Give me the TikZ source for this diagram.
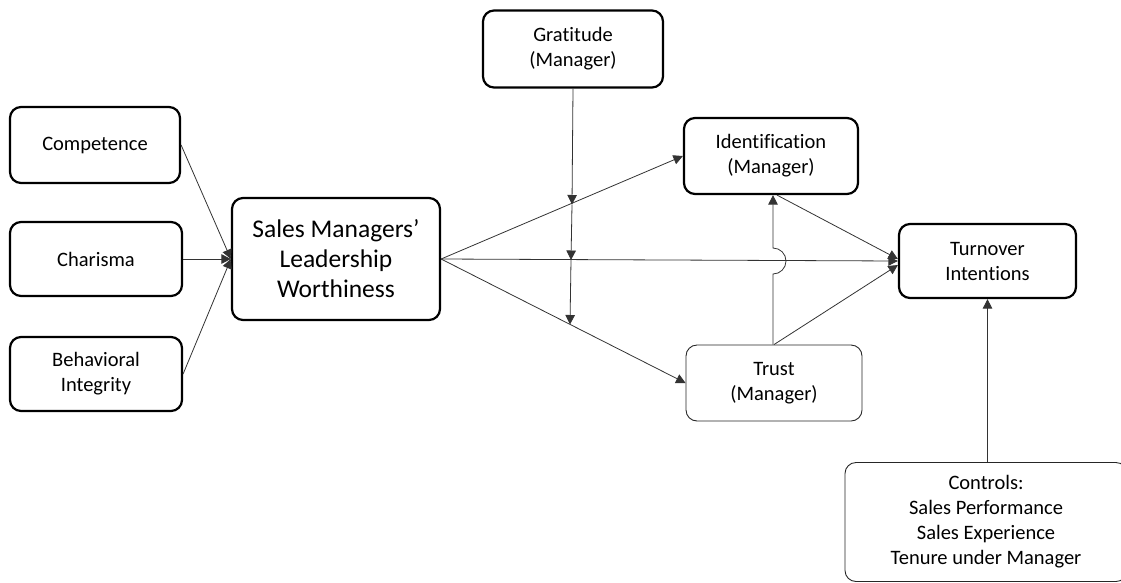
\documentclass[tikz,border=0pt]{standalone}
\usepackage{fontspec}
\setmainfont{Carlito}[Ligatures=NoCommon]
\usetikzlibrary{arrows.meta,calc}
\begin{document}
\begin{tikzpicture}[x=1pt,y=-1pt,
  box/.style={draw=black, rounded corners=11pt, line width=2.2pt, align=center, inner sep=0pt,
    font=\fontsize{20.5}{25}\selectfont},
  thinbox/.style={box, line width=0.9pt, draw=black!85},
  arr/.style={-{Triangle[length=9.5pt,width=9.5pt]}, line width=0.8pt, draw=black!80}]
\useasboundingbox (0,0) rectangle (1121,582);

\node[box, minimum width=170pt, minimum height=76pt] (comp) at (95,145) {Competence};
\node[box, minimum width=172pt, minimum height=74pt] (char) at (96,259) {Charisma};
\node[box, minimum width=172pt, minimum height=74pt] (beh) at (96,374) {Behavioral\\Integrity};
\node[box, minimum width=208pt, minimum height=122pt, font=\fontsize{25.5}{30}\selectfont] (lw) at (336,259) {Sales Managers’\\Leadership\\Worthiness};
\node[box, minimum width=180pt, minimum height=77pt] (grat) at (573,49) {Gratitude\\(Manager)};
\node[box, minimum width=174pt, minimum height=76pt] (ident) at (771,156) {Identification\\(Manager)};
\node[box, minimum width=177pt, minimum height=74pt] (turn) at (987.5,261) {Turnover\\Intentions};
\node[thinbox, minimum width=176pt, minimum height=76pt] (trust) at (774,383) {Trust\\(Manager)};
\node[thinbox, minimum width=282pt, minimum height=119pt] (ctrl) at (986,522) {Controls:\\Sales Performance\\Sales Experience\\Tenure under Manager};

% antecedents
\draw[arr] (comp.east) -- (lw.west);
\draw[arr] (char.east) -- (lw.west);
\draw[arr] (beh.east) -- (lw.west);

% main paths
\draw[arr] (lw.east) -- (ident.west);
\draw[arr] (lw.east) -- (turn.west);
\draw[arr] (lw.east) -- (trust.west);

% moderation by gratitude
\coordinate (m1) at (572,204.5);
\coordinate (m2) at (571,260);
\coordinate (m3) at (570,324.5);
\draw[arr] (grat.south) -- (m1);
\draw[arr] (m1) -- (m2);
\draw[arr] (m2) -- (m3);

% mediators to turnover
\draw[arr] ($(ident.south)+(6,0)$) -- ($(turn.west)+(0,-2)$);
\draw[arr] (trust.north) -- ($(turn.west)+(0,4)$);

% trust -> identification with hop
\coordinate (h1) at (773,274);
\draw[arr] (trust.north -| h1) -- (h1) arc[start angle=-90, end angle=90, radius=13pt] -- (ident.south -| h1);

% controls
\draw[arr] (ctrl.north -| turn.south) -- (turn.south);
\end{tikzpicture}
\end{document}
